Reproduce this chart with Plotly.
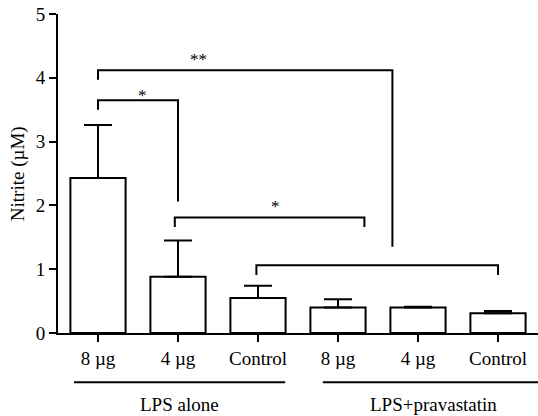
import plotly.graph_objects as go

categories = ["8 µg", "4 µg", "Control", "8 µg ", "4 µg ", "Control "]
tick_text = ["8 µg", "4 µg", "Control", "8 µg", "4 µg", "Control"]
means = [2.43, 0.88, 0.55, 0.40, 0.40, 0.31]
sem_up = [0.83, 0.57, 0.19, 0.13, 0.01, 0.035]

# comparison brackets: (x_left, x_right, top, left_leg_bottom, right_leg_bottom, label, label_x, label_shift)
brackets = [
    (0.0, 1.0, 3.65, 3.50, 2.06, "*", 0.55, 5),
    (0.0, 3.68, 4.12, 3.97, 1.35, "**", 1.26, 11),
    (0.96, 3.33, 1.81, 1.66, 1.66, "*", 2.22, 11),
    (1.98, 5.0, 1.06, 0.91, 0.91, "", None, 0),
]
groups = [("LPS alone", -0.3, 2.34, 1.02), ("LPS+pravastatin", 2.81, 5.5, 4.19)]

FONT = "Liberation Serif"
xs = list(range(len(categories)))

fig = go.Figure()
fig.add_trace(go.Bar(
    x=xs, y=means, width=0.69,
    marker=dict(color="white", line=dict(color="black", width=2)),
    error_y=dict(type="data", array=sem_up, arrayminus=[0] * len(means),
                 symmetric=False, color="black", thickness=2, width=14),
    showlegend=False,
))

for xl, xr, top, lb, rb, lab, lx, sh in brackets:
    fig.add_trace(go.Scatter(
        x=[xl, xl, xr, xr], y=[lb, top, top, rb], mode="lines",
        line=dict(color="black", width=2), showlegend=False, hoverinfo="skip",
    ))
    if lab:
        fig.add_annotation(x=lx, y=top, text=lab, showarrow=False, yshift=sh,
                           yanchor="middle",
                           font=dict(family=FONT, size=17, color="black"))

for name, x0, x1, xc in groups:
    fig.add_shape(type="line", xref="x", yref="paper", x0=x0, x1=x1,
                  y0=-0.154, y1=-0.154, line=dict(color="black", width=2))
    fig.add_annotation(xref="x", yref="paper", x=xc, y=-0.224, yanchor="middle",
                       text=name, showarrow=False,
                       font=dict(family=FONT, size=19, color="black"))

fig.add_annotation(xref="paper", yref="paper", x=-0.084, xanchor="center",
                   y=0.5, yanchor="middle", text="Nitrite (µM)",
                   textangle=-90, showarrow=False,
                   font=dict(family=FONT, size=19, color="black"))

fig.update_layout(
    width=538, height=416,
    margin=dict(l=58, r=0, t=14, b=83),
    plot_bgcolor="white", paper_bgcolor="white",
    font=dict(family=FONT, size=19, color="black"),
    xaxis=dict(range=[-0.5, 5.5], tickvals=xs, ticktext=tick_text,
               showline=True, linecolor="black", linewidth=2,
               ticks="outside", ticklen=7, tickwidth=2, tickcolor="black",
               showgrid=False, zeroline=False, fixedrange=True),
    yaxis=dict(range=[0, 5], tickvals=[0, 1, 2, 3, 4, 5],
               showline=True, linecolor="black", linewidth=2,
               ticks="outside", ticklen=7, tickwidth=2, tickcolor="black",
               showgrid=False, zeroline=False, fixedrange=True),
)

fig.write_html("out.html")
